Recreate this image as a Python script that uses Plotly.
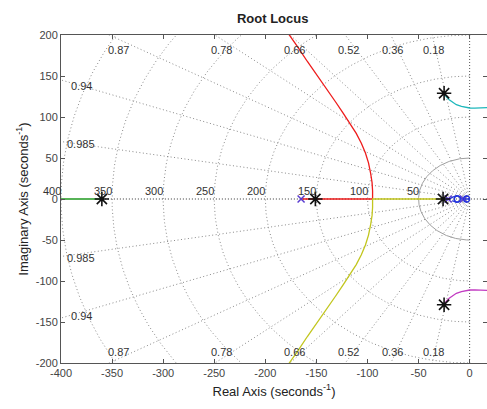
import numpy as np
import plotly.graph_objects as go

# --- grid definition -------------------------------------------------------
zeta_values = [0.18, 0.36, 0.52, 0.66, 0.78, 0.87, 0.94, 0.985]
top_zeta_labels = ["0.18", "0.36", "0.52", "0.66", "0.78", "0.87"]
side_zeta_labels = ["0.94", "0.985"]
wn_values = [50, 100, 150, 200, 250, 300, 350, 400]

x_ticks = [-400, -350, -300, -250, -200, -150, -100, -50, 0]
y_ticks = [-200, -150, -100, -50, 0, 50, 100, 150, 200]

# --- locus branches (real, imaginary) --------------------------------------
green_re = [-420, -360]
green_im = [0, 0]

red_re = [-165, -95, -95, -95.5, -97, -99, -102, -106, -111, -117, -124, -131, -139, -148, -159, -168, -177, -185]
red_im = [0, 0, 10, 20, 32, 44, 56, 68, 80, 92, 105, 118, 132, 148, 168, 185, 200, 215]

yellow_re = [-25, -95, -95, -95.5, -97, -99, -102, -106, -111, -117, -124, -131, -139, -148, -159, -168, -177, -185]
yellow_im = [0, 0, -10, -20, -32, -44, -56, -68, -80, -92, -105, -118, -132, -148, -168, -185, -200, -215]

cyan_re = [-25, -23, -20, -17, -13, -8, -3, 0, 5, 10, 17, 25]
cyan_im = [129, 125, 121, 118, 115, 113, 111.5, 111, 110.8, 111, 111.5, 112]

magenta_re = [-25, -23, -20, -17, -13, -8, -3, 0, 5, 10, 17, 25]
magenta_im = [-129, -125, -121, -118, -115, -113, -111.5, -111, -110.8, -111, -111.5, -112]

blue_re = [-25, -20, -17, -15, -13, -11, -9, -8, -5, -2, 0]
blue_im = [0, 0, 2, 3.5, 4, 3.5, 2, 0, 0, 0, 0]
blue_low_re = [-17, -15, -13, -11, -9]
blue_low_im = [-2, -3.5, -4, -3.5, -2]

# open-loop poles / zeros
pole_re = [-165, -21, -6]
pole_im = [0, 0, 0]
zero_re = [-12, -3]
zero_im = [0, 0]

# closed-loop poles at the chosen gain
cl_re = [-360, -151, -26, -25, -25]
cl_im = [0, 0, 0, 129, -129]

X_MIN, X_MAX = -400, 17
Y_MIN, Y_MAX = -200, 200

fig = go.Figure()
grid_col = "#8a8a8a"
grid_dash = "1px,2.5px"

# damping ratio rays
R = 800
for z in zeta_values:
    s = np.sqrt(1 - z * z)
    for sign in (1, -1):
        fig.add_trace(go.Scatter(x=[0, -R * z], y=[0, sign * R * s], mode="lines",
                                 line=dict(color=grid_col, width=1, dash=grid_dash),
                                 hoverinfo="skip", showlegend=False))

# natural frequency arcs
theta = np.linspace(np.pi / 2, 3 * np.pi / 2, 361)
for wn in wn_values:
    if wn == 50:
        ln = dict(color="#a0a0a0", width=1)
    else:
        ln = dict(color=grid_col, width=1, dash=grid_dash)
    fig.add_trace(go.Scatter(x=wn * np.cos(theta), y=wn * np.sin(theta), mode="lines",
                             line=ln, hoverinfo="skip", showlegend=False))

# axes through the origin
fig.add_trace(go.Scatter(x=[-360, X_MAX], y=[0, 0], mode="lines",
                         line=dict(color="#333333", width=1, dash="1px,2px"),
                         hoverinfo="skip", showlegend=False))
fig.add_trace(go.Scatter(x=[0, 0], y=[Y_MIN, Y_MAX], mode="lines",
                         line=dict(color="#555555", width=1, dash="1px,2px"),
                         hoverinfo="skip", showlegend=False))

# locus branches
def branch(xs, ys, color):
    fig.add_trace(go.Scatter(x=xs, y=ys, mode="lines", line=dict(color=color, width=1.3),
                             hoverinfo="skip", showlegend=False))

branch(green_re, green_im, "#1f9a1f")
branch(red_re, red_im, "#ee1c1c")
branch(yellow_re, yellow_im, "#c2c61e")
branch(cyan_re, cyan_im, "#1fb8bc")
branch(magenta_re, magenta_im, "#c23cc2")
branch(blue_re, blue_im, "#2233dd")
branch(blue_low_re, blue_low_im, "#2233dd")

fig.add_trace(go.Scatter(x=pole_re, y=pole_im, mode="markers",
                         marker=dict(symbol="x-thin-open", size=7, color="#5a3cd0",
                                     line=dict(color="#5a3cd0", width=1.5)),
                         hoverinfo="skip", showlegend=False))
fig.add_trace(go.Scatter(x=zero_re, y=zero_im, mode="markers",
                         marker=dict(symbol="circle-open", size=6, color="#2233dd",
                                     line=dict(color="#2233dd", width=1.3)),
                         hoverinfo="skip", showlegend=False))
fig.add_trace(go.Scatter(x=cl_re, y=cl_im, mode="markers",
                         marker=dict(symbol="asterisk-open", size=12, color="#111111",
                                     line=dict(color="#111111", width=1.6)),
                         hoverinfo="skip", showlegend=False))

# grid labels
lab_font = dict(family="Liberation Sans, Arial, sans-serif", size=11, color="#333333")
annotations = []
for z, txt in zip(zeta_values[:6], top_zeta_labels):
    r = z / np.sqrt(1 - z * z)
    for yy in (182, -186):
        annotations.append(dict(x=-195 * r, y=yy, text=txt, showarrow=False,
                                xanchor="center", yanchor="middle", font=lab_font))
for z, txt in zip(zeta_values[6:], side_zeta_labels):
    r = z / np.sqrt(1 - z * z)
    yl = 380 / r
    for yy in (yl, -yl - 5):
        annotations.append(dict(x=-380, y=yy, text=txt, showarrow=False,
                                xanchor="center", yanchor="middle", font=lab_font))
for wn in wn_values:
    annotations.append(dict(x=-wn + 2, y=10, text=str(wn), showarrow=False,
                            xanchor="right", yanchor="middle", font=lab_font))

fig.update_layout(
    width=487, height=409,
    margin=dict(l=61, r=0, t=35, b=46),
    paper_bgcolor="white", plot_bgcolor="white",
    title=dict(text="<b>Root Locus</b>", x=0.56, xanchor="center", y=0.955, yanchor="middle",
               font=dict(family="Liberation Sans, Arial, sans-serif", size=13, color="#222222")),
    annotations=annotations,
    xaxis=dict(range=[X_MIN, X_MAX], tickvals=x_ticks, ticktext=[str(v) for v in x_ticks],
               showgrid=False, zeroline=False, showline=True, linecolor="#555555", linewidth=1,
               mirror="ticks", ticks="inside", ticklen=4, tickcolor="#555555",
               tickfont=dict(family="Liberation Sans, Arial, sans-serif", size=11, color="#444444"),
               title=dict(text="Real Axis (seconds<sup>-1</sup>)", standoff=8,
                          font=dict(family="Liberation Sans, Arial, sans-serif", size=13, color="#222222"))),
    yaxis=dict(range=[Y_MIN, Y_MAX], tickvals=y_ticks, ticktext=[str(v) for v in y_ticks],
               showgrid=False, zeroline=False, showline=True, linecolor="#555555", linewidth=1,
               mirror="ticks", ticks="inside", ticklen=4, tickcolor="#555555",
               tickfont=dict(family="Liberation Sans, Arial, sans-serif", size=11, color="#444444"),
               title=dict(text="Imaginary Axis (seconds<sup>-1</sup>)", standoff=4,
                          font=dict(family="Liberation Sans, Arial, sans-serif", size=13, color="#222222"))),
)

fig.write_html("out.html")
